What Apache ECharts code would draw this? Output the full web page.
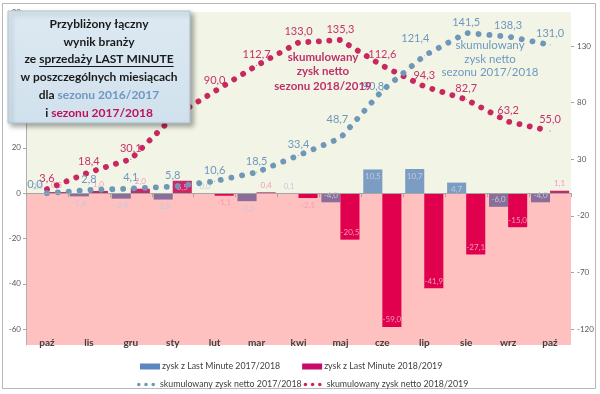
<!DOCTYPE html>
<html><head><meta charset="utf-8">
<script src="https://cdn.jsdelivr.net/npm/echarts@6/dist/echarts.min.js"></script>
<style>html,body{margin:0;padding:0;background:#fff}#c{width:600px;height:394px}</style>
</head><body><div id="c"></div>
<script>
// ---- data ----
const categories = ['paź','lis','gru','sty','lut','mar','kwi','maj','cze','lip','sie','wrz','paź'];
const lastMinute1718 = [0.0, -1.4, -2.4, -2.8, 0.0, -3.5, 0.1, -4.0, 10.5, 10.7, 4.7, -6.0, -4.0];
const lastMinute1819 = [0.5, 1.0, 2.0, 5.5, -1.1, 0.4, -2.1, -20.5, -59.0, -41.9, -27.1, -15.0, 1.1];
const cumulative1718 = [0.0, 2.8, 4.1, 5.8, 10.6, 18.5, 33.4, 48.7, 90.8, 121.4, 141.5, 138.3, 131.0];
const cumulative1819 = [3.6, 18.4, 30.1, 67.0, 90.0, 112.7, 133.0, 135.3, 112.6, 94.3, 82.7, 63.2, 55.0];
const leftTicks = [-60, -40, -20, 0, 20, 40, 60, 80];
const rightTicks = [-120, -70, -20, 30, 80, 130];
const seriesNames = ['zysk z Last Minute 2017/2018', 'zysk z Last Minute 2018/2019',
  'skumulowany zysk netto 2017/2018', 'skumulowany zysk netto 2018/2019'];

// ---- styles ----
const FONT = 'Lato';
const C_BLUE_LEG = '#5b86c0', C_BLUE_POS = '#7c9dc3', C_BLUE_NEG = '#8a6e9a';
const C_RED_LEG = '#c8086a', C_RED_POS = '#cc2466', C_RED_NEG = '#e0004d';
const C_LINE_BLUE = '#6f97b8', C_LINE_RED = '#c8285f';
const fmt = v => (Math.abs(v) < 0.05 ? 0 : v).toFixed(1).replace('.', ',');
const barPos = v => Math.abs(v) >= 4 ? (v >= 0 ? 'insideTop' : 'insideBottom') : (v >= 0 ? 'top' : 'bottom');
const blueLabelTweaks = {0: [-12, 2], 7: [-3, -8], 8: [-9, 7], 9: [-9, -6]};

function barData(vals, pos, neg) {
  return vals.map(v => ({ value: v, itemStyle: { color: v >= 0 ? pos : neg }, label: { position: barPos(v) } }));
}
function lineData(vals, tweaks) {
  return vals.map((v, i) => tweaks && tweaks[i] ? { value: v, label: { offset: tweaks[i] } } : v);
}

// underline measurement for title
const mctx = document.createElement('canvas').getContext('2d');
mctx.font = 'bold 12px ' + FONT;
const wFull = mctx.measureText('ze sprzedaży LAST MINUTE').width;
const wPre = mctx.measureText('ze ').width;
const titleCx = 99;

const chart = echarts.init(document.getElementById('c'), null, { renderer: 'canvas' });
chart.setOption({
  animation: false,
  backgroundColor: '#fff',
  grid: { left: 26, right: 29, top: 12, bottom: 49, containLabel: false, outerBoundsMode: 'none' },
  legend: [
    { data: [seriesNames[0], seriesNames[1]], left: 135, top: 357, itemWidth: 20, itemHeight: 6, itemGap: 22,
      icon: 'rect', textStyle: { fontFamily: FONT, fontSize: 8.8, color: '#404040', padding: [0, 0, 0, -3] } },
    { data: seriesNames.slice(2).map(n => ({ name: n, icon: 'path://M0,2A2,2,0,1,1,4,2A2,2,0,1,1,0,2ZM8,2A2,2,0,1,1,12,2A2,2,0,1,1,8,2ZM16,2A2,2,0,1,1,20,2A2,2,0,1,1,16,2Z' })),
      left: 132, top: 375, itemWidth: 18, itemHeight: 4, itemGap: 2,
      textStyle: { fontFamily: FONT, fontSize: 8.8, color: '#404040' } }
  ],
  xAxis: [
    { type: 'category', data: categories, position: 'bottom', z: 10,
      axisLine: { show: false, onZero: false }, axisTick: { show: false },
      axisLabel: { inside: true, margin: -3, interval: 0, fontFamily: FONT, fontWeight: 'bold', fontSize: 10, color: '#404040' } },
    { type: 'category', data: categories, position: 'bottom', z: 10,
      axisLine: { show: true, onZero: true, lineStyle: { color: '#a6a6a6', width: 1 } },
      axisTick: { show: true, interval: 0, length: 4, lineStyle: { color: '#a6a6a6' } },
      axisLabel: { show: false }, splitLine: { show: false } }
  ],
  yAxis: [
    { type: 'value', min: -67, max: 80, position: 'left', splitLine: { show: false }, z: 10,
      axisLine: { show: true, lineStyle: { color: '#b0b0b0' } },
      axisTick: { show: true, length: 3, customValues: leftTicks, lineStyle: { color: '#a6a6a6' } },
      axisLabel: { customValues: leftTicks, fontFamily: FONT, fontSize: 8, color: '#595959', margin: 5 } },
    { type: 'value', min: -134, max: 160, position: 'right', splitLine: { show: false }, z: 10,
      axisLine: { show: false },
      axisTick: { show: true, length: 3, customValues: rightTicks, lineStyle: { color: '#a6a6a6' } },
      axisLabel: { customValues: rightTicks, fontFamily: FONT, fontSize: 8, color: '#595959', margin: 6 } }
  ],
  series: [
    { name: seriesNames[0], type: 'bar', xAxisIndex: 0, yAxisIndex: 0, barGap: '0%', barCategoryGap: '9%',
      itemStyle: { color: C_BLUE_LEG },
      data: barData(lastMinute1718, C_BLUE_POS, C_BLUE_NEG),
      label: { show: true, formatter: p => fmt(p.value), fontFamily: FONT, fontSize: 8, color: '#c4c9dc', distance: 3 },
      markArea: { silent: true, label: { show: false },
        data: [
          [{ yAxis: 0, itemStyle: { color: '#f2f5e6' } }, { yAxis: 80 }],
          [{ yAxis: 0, itemStyle: { color: '#ffc0c0' } }, { yAxis: -67 }]
        ] } },
    { name: seriesNames[1], type: 'bar', xAxisIndex: 0, yAxisIndex: 0, barGap: '0%', barCategoryGap: '9%',
      itemStyle: { color: C_RED_LEG },
      data: barData(lastMinute1819, C_RED_POS, C_RED_NEG),
      label: { show: true, formatter: p => fmt(p.value), fontFamily: FONT, fontSize: 8, color: '#f59abb', distance: 3 } },
    { name: seriesNames[3], type: 'line', xAxisIndex: 0, yAxisIndex: 1, z: 3,
      data: lineData(cumulative1819), symbol: 'circle', symbolSize: 1, showSymbol: true,
      itemStyle: { color: C_LINE_RED },
      lineStyle: { color: C_LINE_RED, width: 5.8, type: [0.1, 10.4], cap: 'round' },
      label: { show: true, position: 'top', distance: 5, formatter: p => fmt(p.value), fontFamily: FONT, fontSize: 11, color: '#c8306a' } },
    { name: seriesNames[2], type: 'line', xAxisIndex: 0, yAxisIndex: 1, z: 3,
      data: lineData(cumulative1718, blueLabelTweaks), symbol: 'circle', symbolSize: 1, showSymbol: true,
      itemStyle: { color: C_LINE_BLUE },
      lineStyle: { color: C_LINE_BLUE, width: 5.8, type: [0.1, 10.8], cap: 'round' },
      label: { show: true, position: 'top', distance: 5, formatter: p => fmt(p.value), fontFamily: FONT, fontSize: 11, color: '#6f97bd' } }
  ],
  graphic: [
    { type: 'rect', z: 0, silent: true, shape: { x: 2.5, y: 3.5, width: 593, height: 385 },
      style: { fill: 'none', stroke: '#b8b8b8', lineWidth: 1 } },
    { type: 'rect', z: 100, silent: true, shape: { x: 8, y: 11, width: 182, height: 112 },
      style: { fill: new echarts.graphic.LinearGradient(0, 0, 0, 1, [{ offset: 0, color: '#dde9f2' }, { offset: 1, color: '#d0e1ed' }]),
        stroke: '#aec3d3', lineWidth: 1, shadowBlur: 5, shadowOffsetX: 3, shadowOffsetY: 3, shadowColor: 'rgba(0,0,0,0.35)' } },
    { type: 'text', z: 101, silent: true, style: {
        x: titleCx, y: 15, align: 'center', verticalAlign: 'top',
        text: '{b|Przybliżony łączny}\n{b|wynik branży}\n{b|ze sprzedaży LAST MINUTE}\n{b|w poszczególnych miesiącach}\n{b|dla }{bl|sezonu 2016/2017}\n{b|i }{rd|sezonu 2017/2018}',
        rich: {
          b: { fontFamily: FONT, fontWeight: 'bold', fontSize: 12, lineHeight: 17.8, fill: '#1a1a1a' },
          bl: { fontFamily: FONT, fontWeight: 'bold', fontSize: 12, lineHeight: 17.8, fill: '#6f97c0' },
          rd: { fontFamily: FONT, fontWeight: 'bold', fontSize: 12, lineHeight: 17.8, fill: '#c0105a' }
        } } },
    { type: 'line', z: 101, silent: true,
      shape: { x1: titleCx - wFull / 2 + wPre, y1: 66.5, x2: titleCx + wFull / 2, y2: 66.5 },
      style: { stroke: '#1a1a1a', lineWidth: 1 } },
    { type: 'text', z: 90, silent: true, style: {
        x: 323, y: 50, align: 'center', verticalAlign: 'top', text: 'skumulowany\nzysk netto\nsezonu 2018/2019',
        fontFamily: FONT, fontWeight: 'bold', fontSize: 11.5, lineHeight: 14.5, fill: '#c0306a' } },
    { type: 'text', z: 90, silent: true, style: {
        x: 490, y: 39, align: 'center', verticalAlign: 'top', text: 'skumulowany\nzysk netto\nsezonu 2017/2018',
        fontFamily: FONT, fontSize: 11.5, lineHeight: 13.5, fill: '#6f97c0' } }
  ]
});
</script></body></html>
